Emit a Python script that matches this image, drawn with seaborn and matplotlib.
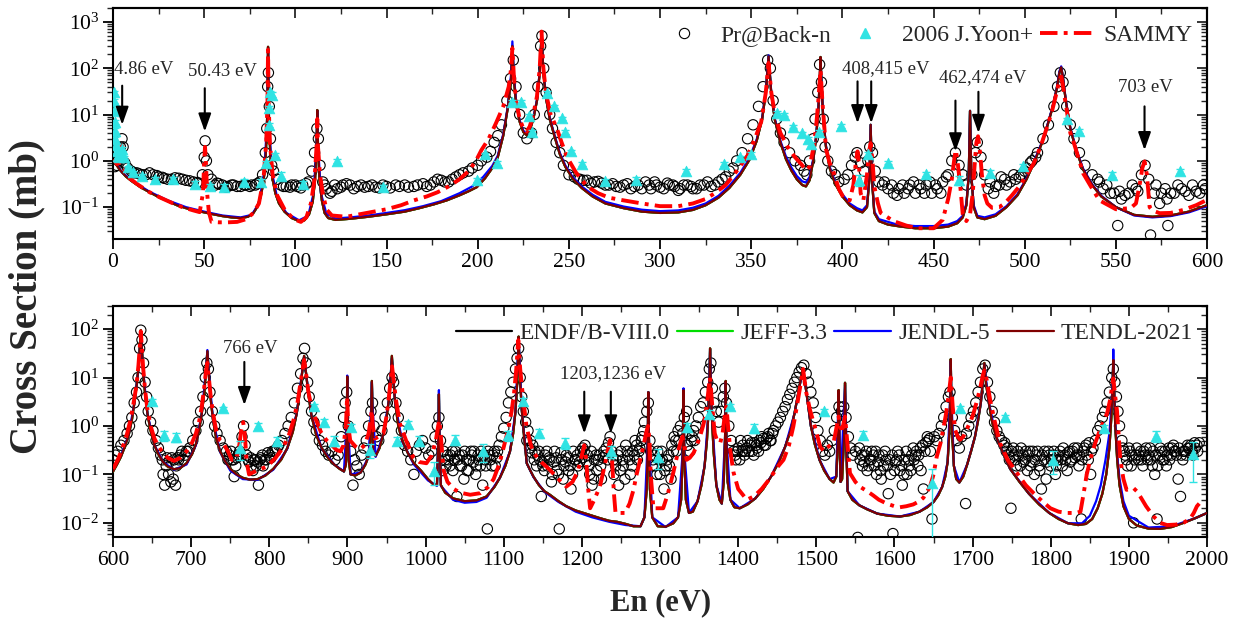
import numpy as np
import pandas as pd
import matplotlib
matplotlib.use("Agg")
import matplotlib.pyplot as plt
import seaborn as sns
from matplotlib.lines import Line2D
from matplotlib.ticker import LogLocator, MultipleLocator, NullFormatter

# ---------------------------------------------------------------- data (E in eV, sigma in mb)
endf_top = [(0.5,1.0),(2,0.8),(4,0.62),(7,0.46),(10,0.37),(15,0.27),(20,0.21),(25,0.165),(30,0.135),(35,0.11),(40,0.095),(45,0.085),(50,0.077),(55,0.07),(60,0.064),(65,0.06),(70,0.058),(74,0.062),(77,0.075),(79,0.1),(81,0.17),(82.5,0.35),(83.5,0.9),(84.3,4),(84.7,20),(85,290),(85.3,20),(85.7,4),(86.5,0.9),(87.5,0.4),(89,0.2),(91,0.12),(94,0.08),(98,0.058),(102,0.05),(105,0.052),(107.5,0.07),(109.5,0.13),(110.8,0.4),(111.6,2),(112,12.5),(112.4,2),(113.2,0.4),(114.5,0.14),(116,0.075),(118,0.058),(122,0.053),(130,0.056),(140,0.062),(150,0.07),(160,0.08),(168,0.095),(176,0.115),(183,0.14),(190,0.18),(195,0.22),(199.5,0.27),(204,0.42),(208,0.7),(211,1.2),(214,3.5),(216.5,14),(218.3,60),(219,300),(219.8,60),(221,18),(223,7),(225,4.2),(226.8,3.6),(228.5,4.5),(230.5,8),(232.5,20),(234,80),(235,560),(236,80),(237.5,22),(239.5,8),(242,3.5),(245,1.4),(248,0.75),(252,0.42),(257,0.26),(263,0.17),(270,0.12),(280,0.095),(290,0.08),(300,0.075),(310,0.077),(318,0.087),(325,0.11),(332,0.16),(338,0.26),(344,0.5),(349,1.05),(353,2.7),(356,8),(358,30),(359.5,180),(361,28),(363,7.5),(366,2.5),(369,1.1),(372,0.62),(375,0.4),(378,0.3),(380,0.28),(382,0.38),(384,1.0),(385.5,3),(386.8,12),(387.6,60),(388,175),(388.5,50),(389.5,8),(391,2),(393,0.7),(396,0.32),(400,0.17),(404,0.11),(408,0.085),(411,0.077),(413.5,0.1),(414.8,0.4),(415.5,6),(416.2,0.4),(417.5,0.075),(420,0.05),(425,0.042),(432,0.038),(440,0.035),(450,0.035),(458,0.038),(463,0.045),(466,0.06),(468,0.11),(469.3,0.5),(470,12),(470.7,0.5),(472,0.1),(474,0.06),(478,0.055),(484,0.065),(490,0.1),(496,0.18),(501,0.4),(505,0.9),(509,2.2),(512,5),(515,13),(517.5,35),(519,80),(520,105),(521,60),(522.5,20),(525,5),(528,1.8),(532,0.65),(537,0.3),(542,0.17),(550,0.1),(560,0.068),(570,0.062),(580,0.066),(590,0.08),(600,0.11)]

jendl_top = [(0.5,1.0),(5,0.56),(10,0.38),(20,0.215),(30,0.14),(40,0.1),(50,0.08),(60,0.066),(70,0.06),(76,0.068),(80,0.12),(83,0.6),(84.5,8),(85,270),(85.5,8),(87,0.6),(90,0.16),(95,0.075),(102,0.052),(107,0.065),(110,0.2),(111.6,2.2),(112,12),(112.4,2.2),(114,0.2),(117,0.072),(122,0.057),(130,0.06),(140,0.066),(150,0.075),(160,0.086),(170,0.105),(180,0.135),(190,0.2),(197,0.28),(203,0.45),(208,0.78),(211,1.3),(214,3.8),(216.5,15),(218.3,75),(219,380),(219.8,75),(221,20),(223,7.5),(225,4.5),(226.8,3.8),(228.5,4.7),(230.5,8.5),(232.5,21),(234,85),(235,500),(236,85),(237.5,23),(239.5,8.5),(242,3.7),(245,1.5),(248,0.8),(252,0.45),(257,0.28),(263,0.185),(270,0.13),(280,0.103),(290,0.088),(300,0.082),(310,0.085),(318,0.097),(325,0.12),(332,0.175),(338,0.29),(344,0.55),(349,1.15),(353,2.9),(356,8.5),(358,33),(359.5,190),(361,30),(363,8),(366,2.7),(369,1.25),(372,0.72),(375,0.47),(378,0.36),(380,0.34),(382,0.45),(384,1.1),(385.5,3.2),(386.8,13),(387.6,60),(388,170),(388.5,50),(389.5,8.5),(391,2.1),(393,0.75),(396,0.35),(400,0.19),(404,0.12),(408,0.095),(411,0.085),(413.5,0.11),(414.8,0.45),(415.5,6),(416.2,0.45),(417.5,0.08),(420,0.055),(430,0.042),(440,0.039),(450,0.039),(458,0.042),(463,0.05),(466,0.065),(468,0.12),(469.3,0.5),(470,12),(470.7,0.5),(472,0.11),(474,0.065),(478,0.06),(484,0.07),(490,0.105),(496,0.19),(501,0.42),(505,0.95),(509,2.3),(512,5.2),(515,13.5),(517.5,36),(519,85),(520,110),(521,62),(522.5,21),(525,5.2),(528,1.9),(532,0.68),(537,0.31),(542,0.175),(550,0.1),(560,0.066),(570,0.06),(580,0.064),(590,0.077),(600,0.105)]

sammy_top = [(0.5,1.1),(2,0.85),(3.5,0.9),(4.5,2.0),(4.86,2.6),(5.3,1.5),(6.5,0.6),(9,0.42),(14,0.3),(20,0.21),(26,0.16),(32,0.125),(38,0.1),(44,0.085),(47.5,0.078),(49.3,0.2),(50.0,1.0),(50.43,2.0),(50.9,1.0),(51.6,0.2),(52.5,0.08),(54,0.048),(58,0.047),(63,0.047),(68,0.048),(73,0.055),(77,0.075),(80,0.12),(82.5,0.4),(84,2.5),(84.7,20),(85,250),(85.3,20),(86,2.5),(87.5,0.5),(90,0.18),(94,0.09),(99,0.055),(103,0.048),(106,0.06),(108.5,0.12),(110.5,0.4),(111.6,2),(112,8),(112.4,2),(113.5,0.5),(115,0.2),(117,0.09),(120,0.066),(128,0.062),(135,0.07),(143,0.08),(150,0.09),(158,0.11),(165,0.14),(172,0.17),(178,0.21),(184,0.28),(190,0.4),(195,0.6),(199,1.0),(202,1.7),(206,3),(210,6.5),(214,15),(217,40),(218.3,100),(219,270),(219.8,70),(221,20),(223,8),(225,5),(226.8,4.3),(228.5,5.5),(230.5,10),(232.5,25),(234,100),(235,620),(236,100),(237.5,28),(240,10),(243.4,5),(246,2.5),(249,1.2),(254,0.55),(260,0.28),(266,0.2),(272,0.16),(280,0.14),(290,0.12),(300,0.105),(310,0.105),(318,0.12),(325,0.15),(330,0.2),(336,0.3),(342,0.6),(348,1.3),(352,3.0),(355.5,7),(358,30),(359.5,130),(361,30),(363,10),(366,4),(370,2),(374,1.2),(378,0.8),(380,0.62),(382,0.75),(384,1.8),(385.5,5),(386.8,20),(388,92),(389,20),(391,1.8),(393,0.9),(395,0.6),(398,0.25),(401,0.15),(404,0.14),(406,0.3),(407.5,1.0),(408.3,1.6),(409,0.9),(410,0.2),(411.5,0.14),(413.5,0.5),(414.5,1.5),(415.5,2.4),(416.5,1.0),(417.5,0.28),(419.5,0.12),(421,0.075),(428,0.05),(435,0.04),(441,0.035),(450,0.035),(455,0.053),(458,0.15),(460,0.4),(461.5,1.2),(462.2,1.7),(463,1.1),(464.6,0.3),(466,0.07),(468,0.05),(470,0.07),(471.5,0.2),(472.5,0.8),(473.5,2.5),(474.4,3.4),(475.5,1.5),(476.5,0.5),(478,0.18),(479.5,0.12),(482,0.097),(486,0.1),(489,0.12),(493,0.18),(497,0.28),(501,0.5),(505,0.89),(509,2.2),(512,5),(515,12),(517.5,30),(519,55),(520,66),(521,40),(523,12.6),(525,4),(527,2.4),(532,0.54),(537,0.25),(541,0.14),(550,0.09),(558,0.095),(561,0.12),(563,0.3),(564.5,0.7),(565.7,0.97),(567,0.5),(568.5,0.1),(570,0.085),(574,0.074),(580,0.075),(587,0.087),(594,0.11),(600,0.144)]

backn_top = [(1,0.75),(2,0.8),(3,1.0),(4,2.0),(4.9,3.0),(5.5,2.0),(6.5,0.9),(8,0.7),(10,0.6),(11.5,0.55),(13,0.55),(14.5,0.52),(16,0.5),(18,0.5),(20,0.55),(22,0.5),(24,0.48),(25,0.45),(27,0.44),(28,0.42),(30,0.4),(32,0.4),(34,0.43),(36,0.42),(38,0.4),(40,0.38),(42,0.37),(44,0.35),(46,0.34),(47,0.33),(49,0.5),(50,1.2),(50.5,2.7),(51.2,1.0),(52,0.5),(54,0.4),(56,0.3),(57,0.33),(58,0.32),(60,0.3),(62,0.27),(63,0.28),(65,0.3),(66,0.3),(68,0.28),(70,0.28),(72,0.3),(73,0.3),(75,0.28),(76,0.3),(78,0.3),(79,0.32),(80.5,0.35),(82,0.5),(83.5,1.5),(84.3,5),(84.8,40),(85.2,80),(85.7,15),(86.3,3),(87,0.8),(88,0.6),(90,0.4),(92,0.3),(93.5,0.28),(95,0.28),(97,0.27),(98,0.3),(100,0.3),(101,0.28),(103,0.26),(104,0.3),(106,0.32),(107,0.35),(109,0.6),(110.5,1.5),(111.8,5),(112.6,3),(113.5,0.8),(115,0.35),(116,0.3),(117,0.25),(119,0.2),(120,0.22),(121.5,0.3),(123,0.25),(125,0.27),(126,0.3),(128,0.32),(130,0.3),(132,0.25),(134,0.28),(136,0.3),(138,0.27),(140,0.28),(142,0.3),(144,0.27),(146,0.26),(148,0.3),(150,0.28),(152,0.26),(155,0.3),(157,0.28),(160,0.3),(162,0.27),(165,0.28),(167,0.3),(170,0.32),(172,0.28),(174,0.3),(176,0.35),(178,0.4),(180,0.38),(182,0.35),(184,0.35),(186,0.4),(188,0.45),(190,0.5),(192,0.55),(195,0.6),(197,0.7),(200,0.8),(202,1.0),(205,1.2),(207,1.6),(209,2.5),(211,3.5),(213,6),(216,20),(218,60),(219.5,150),(221,40),(223,10),(225,4),(227,3),(229.5,4),(231,10),(233,40),(234.5,300),(235.2,500),(236.2,100),(237.5,30),(239.5,10),(241,5),(243,2.5),(245,1.5),(247,0.8),(250,0.5),(253,0.45),(255,0.4),(256,0.4),(258,0.38),(260,0.38),(262,0.33),(264,0.35),(266,0.36),(268,0.33),(270,0.3),(272,0.3),(274,0.32),(276,0.28),(278,0.27),(280,0.3),(282,0.32),(284,0.25),(286,0.28),(288,0.3),(290,0.25),(292,0.35),(294,0.3),(295,0.25),(297,0.35),(298,0.3),(300,0.27),(302,0.25),(304,0.33),(305,0.3),(307,0.3),(308,0.28),(310,0.23),(311,0.25),(313,0.3),(315,0.3),(317,0.28),(318,0.25),(320,0.25),(322,0.3),(324,0.3),(326,0.35),(328,0.28),(330,0.3),(332,0.35),(334,0.4),(336,0.45),(338,0.6),(340,0.7),(342,1.0),(345,1.5),(348,3),(351,6),(354,15),(356.5,40),(359,150),(360.5,100),(362,20),(364,8),(366,4),(368,2.5),(371,1.5),(374,1.0),(377,0.8),(379,0.6),(380.5,0.5),(382,1.0),(384,3),(385,8),(386.5,30),(387.5,120),(388.5,50),(389.5,8),(390.5,2),(392,1.0),(394,0.6),(396,0.5),(398,0.35),(401,0.4),(403,0.5),(405,0.8),(407,1.2),(408,1.5),(410,0.9),(412,0.6),(414,1.0),(415,2),(416.5,1.5),(418,0.6),(420,0.35),(422,0.3),(423,0.35),(425,0.25),(427,0.3),(428,0.2),(430,0.18),(431,0.25),(433,0.3),(434,0.2),(436,0.25),(437,0.3),(439,0.35),(440,0.2),(442,0.3),(443,0.25),(445,0.2),(446,0.3),(448,0.35),(449,0.2),(451,0.3),(452,0.25),(454,0.2),(455,0.35),(457,0.45),(458,0.5),(460,1.0),(462,1.5),(464,0.8),(466,0.5),(468,0.3),(471,0.5),(473,1.5),(474,2.5),(476,1.2),(478,0.5),(480,0.25),(481,0.35),(483,0.2),(484,0.28),(486,0.3),(487,0.45),(489,0.4),(490,0.3),(492,0.35),(494,0.5),(495,0.4),(497,0.45),(498,0.5),(500,0.6),(501,0.7),(503,0.9),(504,1.0),(506,1.2),(507,1.5),(510,3),(513,6),(516,15),(518,40),(519.5,80),(521,50),(523,15),(525,6),(527,3),(530,1.5),(533,0.8),(537,0.5),(540,0.4),(541,0.35),(543,0.25),(545,0.3),(547,0.2),(549,0.2),(551,0.04),(552,0.22),(553,0.15),(555,0.18),(557,0.2),(559,0.3),(561,0.25),(562,0.22),(564,0.5),(566,0.8),(568,0.4),(569,0.025),(571,0.2),(572,0.3),(574,0.12),(575,0.2),(577,0.25),(578,0.15),(578.5,0.04),(580,0.2),(582,0.2),(584,0.3),(586,0.25),(588,0.22),(590,0.18),(592,0.3),(594,0.22),(596,0.2),(598,0.3),(599,0.25)]

yoon_top = [(0.3,30,3),(0.5,20,2),(0.7,12,1.5),(0.9,7,0.8),(1.1,4.5,0.5),(1.3,3,0.3),(1.6,2.2,0.2),(2,1.6,0.15),(2.5,1.3,0.12),(3,1.2,0.1),(4,1.3,0.1),(5,1.8,0.15),(6,1.2,0.1),(8,0.72,0.06),(11,0.56,0.05),(16,0.48,0.04),(23,0.4,0.04),(33,0.4,0.04),(45,0.32,0.04),(53,0.28,0.04),(61,0.27,0.04),(72,0.35,0.05),(81,0.35,0.05),(84,0.9,0.1),(85.3,6,0.5),(85.7,14,1),(86,30,3),(87,27,3),(89,1.35,0.15),(92,0.48,0.08),(104,0.32,0.04),(123,1.0,0.08),(148,0.27,0.03),(199.5,0.39,0.04),(204,1.4,0.1),(210.5,0.9,0.07),(219,19,1.5),(224,19,1.5),(228,9.4,0.8),(230,4.3,0.4),(238,29,2.5),(242,15,1.2),(246,8.3,0.7),(248,4.2,0.4),(251,1.6,0.15),(257,0.85,0.08),(270,0.36,0.05),(287,0.39,0.05),(314,0.59,0.06),(335,0.85,0.08),(344,1.2,0.1),(350,1.4,0.12),(364,11,0.8),(368,10,0.8),(373,5.5,0.5),(378,3.9,0.4),(381,2.9,0.3),(383,2.3,0.3),(387,4.3,0.4),(399,5.7,0.5),(409,0.39,0.1),(414,1.4,0.15),(425,0.92,0.08),(446,0.52,0.06),(464,0.38,0.08),(481,0.54,0.08),(499,0.79,0.08),(523,8,0.6),(530,4.4,0.4),(548,0.5,0.06),(585,0.59,0.06)]

endf_bot = [(600,0.115),(605,0.16),(610,0.23),(615,0.37),(620,0.65),(624,1.3),(627,2.8),(630,6.5),(632.5,16),(634.5,50),(635.5,95),(636.5,50),(638.5,14),(641,4.5),(644,1.8),(648,0.8),(653,0.4),(658,0.26),(664,0.18),(670,0.145),(678,0.128),(686,0.135),(694,0.17),(701,0.26),(706,0.42),(710,0.8),(713.5,1.8),(716.5,4.5),(719,14),(720.7,35),(722.5,12),(725,3.5),(728,1.3),(732,0.55),(737,0.3),(743,0.19),(750,0.13),(758,0.1),(766,0.085),(775,0.078),(785,0.08),(795,0.095),(805,0.13),(815,0.2),(823,0.35),(830,0.75),(835,1.8),(839,5),(842,13),(844.5,28),(847,12),(850,4.5),(854,1.6),(860,0.65),(867,0.35),(875,0.22),(883,0.16),(890,0.13),(895.5,0.115),(898,0.16),(899.2,1.5),(899.7,10.5),(900.3,1.5),(901.5,0.2),(904,0.1),(910,0.095),(917,0.11),(923,0.16),(927,0.24),(929.5,0.5),(930.6,3),(931.2,8.5),(931.8,3),(933,0.3),(936,0.24),(941,0.35),(946,0.7),(950,1.5),(953,3.5),(955.3,10),(956.8,28),(958.5,10),(961,3),(965,1.0),(970,0.5),(977,0.28),(985,0.17),(994,0.12),(1003,0.08),(1010,0.062),(1014.5,0.06),(1016.2,0.5),(1017,4.5),(1017.8,0.5),(1019.5,0.06),(1025,0.042),(1035,0.032),(1050,0.028),(1065,0.029),(1078,0.035),(1088,0.055),(1095,0.085),(1102,0.15),(1108,0.3),(1112,0.7),(1115,2),(1117,7),(1118.3,28),(1119,70),(1119.7,28),(1121,8),(1123,2.2),(1126,0.6),(1129.4,0.17),(1134,0.12),(1138,0.09),(1145,0.06),(1152,0.045),(1159,0.038),(1170,0.028),(1180,0.022),(1192,0.018),(1202,0.016),(1213,0.014),(1223,0.0125),(1235,0.011),(1245,0.0105),(1256,0.0095),(1266,0.0085),(1275,0.0085),(1280,0.013),(1283,0.05),(1284.3,0.6),(1285,5),(1285.7,0.6),(1287,0.05),(1290,0.013),(1297,0.0085),(1307,0.0083),(1317,0.0098),(1323,0.013),(1327,0.03),(1329,0.25),(1330,5.5),(1331,0.25),(1333,0.03),(1337,0.016),(1342,0.017),(1348,0.028),(1353,0.06),(1357,0.15),(1360,0.5),(1362,2),(1363.3,10),(1364,40),(1364.7,10),(1366,2),(1368.5,0.3),(1372,0.06),(1376,0.03),(1379,0.025),(1381.5,0.07),(1383.2,0.6),(1384,8.5),(1384.8,0.6),(1386.5,0.07),(1390,0.03),(1395,0.021),(1402,0.02),(1412,0.024),(1422,0.032),(1432,0.05),(1442,0.09),(1452,0.18),(1460,0.37),(1467,0.8),(1472,1.8),(1476,4),(1479.5,8),(1482.5,15),(1485.5,8),(1489,3),(1493,1),(1498,0.42),(1504,0.2),(1510,0.12),(1517,0.08),(1522,0.068),(1525.5,0.09),(1527.5,0.5),(1528.5,5.5),(1529.5,0.5),(1531,0.07),(1533,0.08),(1535.5,0.6),(1536.7,7.8),(1537.9,0.6),(1540,0.045),(1546,0.03),(1555,0.023),(1565,0.019),(1578,0.0155),(1592,0.014),(1607,0.0135),(1620,0.0145),(1632,0.017),(1642,0.021),(1650,0.027),(1656,0.037),(1661,0.055),(1665,0.09),(1668,0.18),(1670.3,0.8),(1671.5,5),(1672,24),(1672.6,5),(1674,0.6),(1676,0.15),(1679,0.08),(1683,0.068),(1688,0.09),(1693,0.16),(1698,0.3),(1703,0.6),(1707,1.3),(1710.5,3),(1713,8),(1715,20),(1717,8),(1720,3.5),(1725,1.2),(1730,0.6),(1738,0.3),(1748,0.13),(1760,0.07),(1772,0.04),(1785,0.024),(1798,0.016),(1810,0.012),(1822,0.0098),(1835,0.009),(1845,0.0095),(1853,0.012),(1860,0.02),(1866,0.04),(1871,0.1),(1875,0.35),(1877.5,1.5),(1879,6),(1880,23),(1881,6),(1882.5,1.0),(1885,0.2),(1888,0.06),(1893,0.022),(1900,0.012),(1910,0.0088),(1925,0.0076),(1940,0.0075),(1955,0.0082),(1970,0.0100),(1985,0.0125),(2000,0.016)]

jendl_bot = [(600,0.125),(610,0.24),(620,0.66),(627,2.8),(632.5,15),(635.5,80),(638.5,14),(644,1.8),(653,0.4),(664,0.18),(678,0.125),(694,0.16),(706,0.4),(713.5,1.8),(719,15),(720.7,37),(722.5,13),(728,1.3),(737,0.29),(750,0.12),(766,0.08),(785,0.077),(805,0.125),(823,0.34),(835,1.8),(842,13),(844.5,27),(847,12),(854,1.6),(867,0.34),(883,0.16),(895.5,0.115),(899.2,1.5),(899.7,11),(900.3,1.5),(904,0.1),(917,0.11),(927,0.23),(930.6,3),(931.2,8),(931.8,3),(936,0.23),(946,0.68),(953,3.4),(956.8,25),(961,2.9),(970,0.48),(985,0.16),(1003,0.075),(1014.5,0.058),(1016.2,0.6),(1017,5.5),(1017.8,0.6),(1019.5,0.058),(1035,0.03),(1050,0.026),(1065,0.027),(1078,0.033),(1095,0.085),(1108,0.3),(1115,2),(1119,65),(1123,2.2),(1129.4,0.17),(1138,0.088),(1152,0.044),(1170,0.027),(1192,0.017),(1213,0.013),(1235,0.0105),(1256,0.009),(1275,0.0085),(1280,0.013),(1284.3,0.6),(1285,5),(1285.7,0.6),(1290,0.013),(1307,0.0082),(1323,0.013),(1329,0.3),(1330,6),(1331,0.3),(1337,0.016),(1348,0.028),(1357,0.15),(1362,2),(1364,38),(1366,2),(1372,0.06),(1379,0.025),(1383.2,0.6),(1384,8),(1384.8,0.6),(1390,0.03),(1402,0.02),(1422,0.032),(1442,0.09),(1460,0.37),(1472,1.8),(1479.5,8),(1482.5,14),(1485.5,8),(1493,1),(1504,0.2),(1517,0.08),(1525.5,0.09),(1528.5,5),(1531,0.07),(1536.7,7),(1540,0.045),(1555,0.023),(1578,0.0155),(1607,0.0135),(1632,0.017),(1650,0.027),(1661,0.055),(1668,0.18),(1671.5,5),(1672,22),(1672.6,5),(1676,0.15),(1683,0.068),(1693,0.16),(1703,0.6),(1710.5,3),(1715,19),(1720,3.5),(1730,0.6),(1748,0.13),(1772,0.04),(1798,0.016),(1822,0.0098),(1840,0.0098),(1850,0.014),(1858,0.028),(1864,0.06),(1870,0.2),(1875,0.7),(1878,3),(1879.5,12),(1880,38),(1880.7,8),(1882.5,1.2),(1885,0.25),(1888,0.08),(1893,0.028),(1900,0.014),(1925,0.008),(1955,0.0085),(1985,0.0125),(2000,0.016)]

sammy_bot = [(600,0.13),(606,0.2),(612,0.35),(618,0.7),(623,1.5),(627,3.5),(630,7),(632.5,18),(634.5,50),(635.5,90),(636.5,50),(638.5,16),(641,5.5),(644,2.2),(648,1.0),(653,0.55),(658,0.38),(664,0.28),(670,0.22),(678,0.19),(686,0.22),(694,0.3),(701,0.45),(706,0.7),(710,1.2),(713.5,2.5),(716.5,6),(719,14),(720.7,20),(722.5,10),(725,4),(728,1.8),(732,0.8),(737,0.5),(741,0.44),(747,0.3),(752,0.2),(757,0.2),(761,0.35),(764,0.8),(766.5,1.2),(768.5,0.7),(771,0.18),(774,0.1),(784,0.12),(797,0.145),(808,0.22),(818,0.37),(825,0.65),(831,1.33),(836,3),(840,8),(843,16),(844.5,23),(846.5,14),(850,5),(855,2),(860,1.3),(866,0.75),(873,0.51),(880,0.4),(886,0.32),(891,0.3),(895,0.4),(898,1.0),(899.5,4),(901,1.0),(903.5,0.5),(910,0.38),(916,0.33),(922,0.4),(927,0.7),(929.5,1.3),(931,2.1),(932.5,1.0),(935,0.55),(940,0.6),(946,0.7),(950,1.6),(953,4),(955.5,10),(957,17),(959,9),(962,3.5),(967,1.13),(975,0.5),(984,0.23),(992,0.18),(1001,0.17),(1008,0.25),(1013,0.5),(1016,1.0),(1017.5,1.3),(1019.5,0.6),(1023,0.12),(1028,0.07),(1036,0.05),(1044,0.042),(1057,0.038),(1070,0.041),(1080,0.055),(1087,0.08),(1094,0.16),(1100,0.37),(1106,0.9),(1110,2),(1113,4.5),(1116,15),(1118.6,59),(1121,15),(1125,3.4),(1129,1.0),(1134,0.44),(1138,0.28),(1148,0.18),(1159,0.124),(1170,0.08),(1180,0.056),(1188,0.07),(1195,0.12),(1200,0.25),(1203,0.4),(1205.5,0.2),(1208,0.05),(1210.5,0.02),(1215,0.028),(1223,0.056),(1229,0.15),(1233,0.3),(1236,0.51),(1238.5,0.2),(1241,0.04),(1243,0.016),(1255,0.016),(1261,0.025),(1266,0.048),(1270,0.1),(1274.5,0.2),(1279,0.4),(1282,0.7),(1284.5,1.0),(1286.5,0.5),(1288,0.1),(1291.5,0.02),(1304,0.02),(1310,0.04),(1317,0.11),(1322,0.25),(1326,0.45),(1328.5,0.6),(1331,0.4),(1334,0.2),(1338,0.22),(1343,0.28),(1347,0.4),(1351,0.6),(1355,1.0),(1358,1.6),(1361,4),(1363,8),(1364,10),(1366,4),(1368,1.5),(1370,0.7),(1373,0.5),(1377,0.45),(1380,0.7),(1382.5,1.5),(1385,2.5),(1387,1.0),(1390,0.3),(1394,0.11),(1400,0.05),(1411,0.03),(1420,0.035),(1430,0.05),(1440,0.08),(1450,0.14),(1458,0.2),(1465,0.4),(1470.5,0.97),(1475,2.5),(1479,6),(1483,15),(1487,5),(1492,2.1),(1498,0.97),(1505,0.37),(1510,0.3),(1513,0.35),(1518,0.4),(1522,0.45),(1525,0.8),(1528.5,1.56),(1531,0.9),(1533.5,0.9),(1536.7,1.56),(1539,0.6),(1543,0.106),(1550,0.07),(1555.5,0.056),(1565,0.045),(1572.6,0.037),(1580,0.03),(1590,0.025),(1600,0.022),(1607,0.021),(1615,0.022),(1624,0.024),(1632,0.028),(1637,0.033),(1642,0.045),(1645.5,0.056),(1650,0.1),(1654,0.23),(1659,0.45),(1663,0.97),(1666,1.8),(1669,4),(1672,10),(1674.5,2.5),(1677.6,0.83),(1681,0.6),(1684,0.52),(1688,0.6),(1692,0.83),(1697,1.2),(1701,1.8),(1706,3.5),(1710,6.5),(1713,11),(1715,14),(1718,9),(1722.5,3.4),(1728,1.3),(1735,0.44),(1745,0.2),(1757,0.106),(1768,0.06),(1778,0.041),(1789,0.028),(1799.5,0.02),(1810,0.017),(1820.8,0.016),(1832,0.016),(1838,0.017),(1842,0.04),(1846,0.1),(1850.5,0.2),(1857,0.45),(1863,0.83),(1868,1.3),(1872,1.8),(1876,3.5),(1880,9.6),(1882.5,4),(1884.7,2.1),(1887,0.6),(1889,0.2),(1893,0.08),(1897,0.048),(1902,0.05),(1906,0.052),(1910,0.045),(1914.5,0.035),(1922,0.022),(1931.6,0.0135),(1940,0.01),(1948.7,0.009),(1960,0.0092),(1970,0.0101),(1978,0.012),(1983,0.016),(1987,0.022),(1990,0.025)]

backn_bot = [(600,0.2),(603,0.25),(606,0.3),(610,0.4),(614,0.5),(618,0.7),(621,1.0),(624,1.5),(627,3),(630,5),(632,10),(634,40),(635.5,95),(637,60),(639,20),(641,8),(643,4),(645,2),(648,1.2),(651,0.8),(655,0.5),(658,0.35),(661,0.25),(663,0.2),(664,0.1),(666,0.06),(668,0.15),(669,0.22),(671,0.1),(672,0.18),(674,0.07),(675,0.22),(677,0.08),(678,0.2),(680,0.06),(681,0.15),(683,0.22),(684,0.2),(686,0.25),(688,0.3),(690,0.2),(692,0.25),(694,0.3),(696,0.3),(698,0.35),(702,0.5),(706,0.8),(709,1.2),(712,2),(715,4),(718,10),(720,20),(722,15),(724,5),(727,2),(730,1.0),(733,0.7),(737,0.5),(741,0.35),(745,0.3),(747,0.2),(749,0.25),(751,0.3),(752,0.2),(754,0.2),(755,0.09),(757,0.15),(758,0.22),(760,0.25),(762,0.3),(765,0.6),(767,1.0),(769,0.4),(771,0.25),(773,0.2),(774,0.18),(776,0.22),(777,0.15),(779,0.12),(780,0.2),(782,0.2),(783,0.15),(785,0.18),(786,0.06),(788,0.2),(789,0.22),(791,0.25),(792,0.15),(794,0.2),(796,0.2),(798,0.28),(800,0.25),(802,0.22),(804,0.3),(806,0.3),(808,0.3),(810,0.35),(812,0.4),(816,0.5),(820,0.7),(824,1.0),(828,1.5),(832,3),(836,6),(840,12),(843,25),(845,40),(847,20),(849,8),(851,4),(854,2),(857,1.2),(860,0.8),(864,0.5),(868,0.4),(872,0.3),(876,0.25),(880,0.3),(884,0.2),(888,0.25),(892,0.6),(895,1.5),(897,3),(899,5),(901,1),(904,0.3),(907,0.06),(909,0.2),(912,0.15),(915,0.1),(918,0.25),(921,0.35),(924,0.5),(927,1.0),(930,2),(932,3),(934,1),(937,0.6),(940,0.5),(944,0.8),(948,1.5),(951,3),(954,6),(957,10),(959,8),(962,3),(965,1.5),(969,0.8),(973,0.4),(977,0.3),(981,0.2),(985,0.1),(988,0.3),(992,0.4),(996,0.5),(1000,0.35),(1004,0.25),(1008,0.3),(1012,0.6),(1015,1.0),(1017,1.5),(1019,0.5),(1022,0.12),(1023,0.3),(1025,0.2),(1026,0.15),(1028,0.25),(1029,0.2),(1031,0.15),(1032,0.25),(1034,0.3),(1035,0.12),(1037,0.2),(1038,0.3),(1040,0.035),(1041,0.2),(1043,0.25),(1044,0.15),(1046,0.15),(1047,0.25),(1049,0.08),(1050,0.3),(1052,0.2),(1053,0.12),(1055,0.12),(1056,0.2),(1058,0.3),(1059,0.25),(1061,0.18),(1062,0.3),(1064,0.1),(1065,0.15),(1067,0.25),(1068,0.2),(1070,0.15),(1071,0.3),(1073,0.06),(1074,0.25),(1076,0.2),(1077,0.15),(1079,0.0075),(1080,0.3),(1082,0.25),(1083,0.2),(1085,0.15),(1086,0.25),(1088,0.3),(1089,0.15),(1091,0.22),(1092,0.3),(1094,0.4),(1097,0.6),(1100,0.9),(1103,1.5),(1106,3),(1109,5),(1112,8),(1115,15),(1117,25),(1119,40),(1121,10),(1123,4),(1125,2),(1128,1.2),(1129.5,0.5),(1131,0.8),(1133,0.35),(1134,0.5),(1136,0.28),(1137,0.4),(1139,0.2),(1140,0.3),(1142,0.15),(1143,0.25),(1145,0.3),(1146,0.2),(1148,0.035),(1149,0.18),(1150,0.15),(1152,0.12),(1153,0.25),(1155,0.3),(1156,0.15),(1158,0.22),(1159,0.2),(1161,0.07),(1162,0.1),(1164,0.18),(1165,0.3),(1167,0.22),(1168,0.12),(1170,0.1),(1171,0.0075),(1173,0.28),(1174,0.2),(1176,0.08),(1177,0.15),(1179,0.18),(1180,0.25),(1182,0.22),(1183,0.12),(1185,0.15),(1186,0.05),(1188,0.1),(1189,0.3),(1191,0.2),(1192,0.2),(1194,0.25),(1195,0.15),(1197,0.18),(1198,0.3),(1200,0.22),(1201,0.35),(1203,0.3),(1204,0.4),(1206,0.18),(1207,0.25),(1209,0.15),(1210,0.1),(1212,0.3),(1213,0.06),(1215,0.08),(1216,0.2),(1218,0.25),(1219,0.12),(1221,0.2),(1222,0.25),(1224,0.15),(1225,0.08),(1227,0.22),(1228,0.3),(1230,0.25),(1231,0.35),(1233,0.2),(1234,0.45),(1236,0.6),(1238,0.3),(1240,0.2),(1241,0.1),(1243,0.15),(1244,0.2),(1246,0.25),(1247,0.06),(1249,0.12),(1250,0.3),(1252,0.2),(1253,0.15),(1255,0.08),(1256,0.4),(1258,0.3),(1259,0.25),(1261,0.2),(1262,0.1),(1264,0.15),(1265,0.3),(1267,0.25),(1268,0.5),(1270,0.4),(1271,0.2),(1273,0.3),(1274,0.35),(1276,0.5),(1277,0.6),(1279,0.8),(1280,1.2),(1283,2),(1285,3),(1287,0.5),(1288,0.3),(1290,0.15),(1291,0.2),(1293,0.25),(1294,0.15),(1296,0.1),(1297,0.3),(1299,0.2),(1300,0.1),(1302,0.3),(1303,0.2),(1305,0.05),(1306,0.12),(1308,0.15),(1309,0.2),(1311,0.25),(1312,0.15),(1314,0.08),(1315,0.4),(1317,0.3),(1318,0.6),(1320,0.5),(1321,0.3),(1323,0.8),(1324,0.5),(1326,1.0),(1329,0.7),(1331,1.5),(1334,2),(1335,0.4),(1337,0.7),(1338,0.3),(1340,0.5),(1341,0.6),(1343,0.8),(1344,0.5),(1346,1.0),(1349,1.5),(1352,2.5),(1355,3),(1358,5),(1361,8),(1363,15),(1365,20),(1367,6),(1369,3),(1372,2),(1375,1.2),(1378,2),(1381,4),(1383,6),(1385,3),(1388,1),(1391,0.5),(1394,0.3),(1396,0.25),(1397,0.2),(1399,0.3),(1400,0.35),(1402,0.2),(1403,0.5),(1405,0.3),(1406,0.4),(1408,0.25),(1409,0.3),(1411,0.35),(1412,0.5),(1414,0.3),(1415,0.4),(1417,0.45),(1418,0.3),(1420,0.25),(1421,0.45),(1423,0.4),(1424,0.35),(1426,0.3),(1427,0.5),(1429,0.45),(1430,0.6),(1432,0.55),(1433,0.4),(1435,0.4),(1436,0.55),(1438,0.6),(1439,0.7),(1441,0.5),(1442,0.5),(1444,0.7),(1445,0.8),(1448,1.0),(1451,1.2),(1454,1.5),(1457,2),(1460,2.5),(1463,3.5),(1466,4.5),(1469,6),(1472,8),(1475,10),(1478,13),(1481,16),(1484,18),(1487,12),(1490,8),(1493,5),(1496,3),(1499,1.5),(1502,0.8),(1505,0.5),(1508,0.3),(1511,0.25),(1514,0.4),(1517,0.3),(1520,0.5),(1523,0.8),(1526,1.5),(1529,2.5),(1532,2),(1535,2.5),(1538,1.5),(1541,0.6),(1544,0.35),(1547,0.25),(1550,0.3),(1553,0.005),(1555,0.35),(1556,0.2),(1558,0.25),(1559,0.15),(1561,0.18),(1562,0.25),(1564,0.3),(1565,0.12),(1567,0.15),(1568,0.2),(1570,0.2),(1571,0.3),(1573,0.25),(1574,0.15),(1576,0.3),(1577,0.1),(1579,0.18),(1580,0.25),(1582,0.12),(1583,0.08),(1585,0.25),(1586,0.15),(1588,0.3),(1589,0.2),(1591,0.15),(1592,0.04),(1594,0.2),(1595,0.1),(1597,0.25),(1598,0.006),(1600,0.12),(1601,0.18),(1603,0.2),(1604,0.3),(1606,0.25),(1607,0.12),(1609,0.15),(1610,0.06),(1612,0.1),(1613,0.2),(1615,0.3),(1616,0.1),(1618,0.2),(1619,0.15),(1621,0.12),(1622,0.25),(1624,0.35),(1625,0.2),(1627,0.25),(1628,0.3),(1630,0.15),(1631,0.25),(1633,0.35),(1634,0.12),(1636,0.4),(1637,0.05),(1639,0.3),(1640,0.45),(1642,0.6),(1643,0.5),(1645,0.55),(1646,0.3),(1648,0.012),(1651,0.6),(1654,0.5),(1657,0.7),(1660,1.0),(1663,1.5),(1666,2.5),(1669,4),(1671,5),(1674,1.5),(1677,0.8),(1680,0.5),(1683,0.35),(1686,0.6),(1691,0.025),(1692,0.7),(1695,1.0),(1698,1.5),(1701,2),(1704,3),(1707,5),(1710,8),(1713,15),(1716,18),(1719,8),(1722,4),(1725,2),(1728,1.2),(1731,0.8),(1734,0.6),(1737,0.5),(1740,0.4),(1741,0.45),(1743,0.3),(1744,0.35),(1746,0.25),(1747,0.2),(1749,0.02),(1750,0.3),(1752,0.35),(1753,0.25),(1755,0.2),(1756,0.15),(1758,0.3),(1759,0.25),(1761,0.15),(1762,0.35),(1764,0.25),(1765,0.18),(1767,0.2),(1768,0.3),(1770,0.12),(1771,0.25),(1773,0.3),(1774,0.15),(1776,0.18),(1777,0.3),(1779,0.1),(1780,0.2),(1782,0.25),(1783,0.3),(1785,0.15),(1786,0.12),(1788,0.05),(1789,0.25),(1791,0.2),(1792,0.3),(1794,0.08),(1795,0.18),(1797,0.3),(1798,0.25),(1800,0.15),(1801,0.2),(1803,0.25),(1804,0.3),(1806,0.1),(1807,0.15),(1809,0.2),(1810,0.25),(1812,0.3),(1813,0.2),(1815,0.15),(1816,0.35),(1818,0.25),(1819,0.2),(1821,0.12),(1822,0.28),(1824,0.3),(1825,0.18),(1827,0.2),(1828,0.3),(1830,0.35),(1831,0.22),(1833,0.25),(1834,0.35),(1836,0.15),(1837,0.25),(1839,0.012),(1840,0.2),(1842,0.3),(1843,0.35),(1845,0.4),(1846,0.25),(1848,0.2),(1849,0.45),(1851,0.1),(1852,0.3),(1854,0.35),(1857,0.5),(1860,0.8),(1863,1.0),(1866,1.5),(1869,2),(1872,3),(1875,5),(1878,10),(1880,15),(1882,8),(1884,4),(1886,2),(1888,1.0),(1891,0.5),(1892,0.35),(1894,0.3),(1895,0.25),(1897,0.2),(1898,0.15),(1900,0.35),(1901,0.3),(1903,0.15),(1904,0.25),(1906,0.01),(1907,0.2),(1909,0.25),(1910,0.35),(1912,0.2),(1913,0.25),(1915,0.3),(1916,0.2),(1918,0.15),(1919,0.3),(1921,0.25),(1922,0.35),(1924,0.2),(1925,0.25),(1927,0.35),(1928,0.2),(1930,0.15),(1931,0.3),(1933,0.1),(1934,0.25),(1936,0.012),(1937,0.15),(1939,0.25),(1940,0.35),(1942,0.3),(1943,0.2),(1945,0.2),(1946,0.3),(1948,0.15),(1949,0.25),(1951,0.35),(1952,0.2),(1954,0.25),(1955,0.35),(1957,0.4),(1958,0.3),(1960,0.3),(1961,0.25),(1963,0.08),(1964,0.35),(1966,0.035),(1967,0.25),(1969,0.2),(1970,0.3),(1972,0.3),(1973,0.25),(1975,0.4),(1976,0.35),(1978,0.35),(1979,0.4),(1981,0.3),(1982,0.25),(1984,0.45),(1985,0.35),(1987,0.4),(1988,0.3),(1990,0.45)]

yoon_bot = [(650,3.3,0.3),(665,0.65,0.15),(680,0.58,0.12),(741,2.3,0.2),(763,0.35,0.15),(786,1.0,0.15),(810,0.48,0.1),(857,2.6,0.3),(870,1.2,0.2),(883,0.5,0.12),(905,0.97,0.15),(929,0.32,0.1),(963,0.5,0.08),(978,1.1,0.15),(991,0.5,0.12),(1011,0.12,0.06),(1038,0.52,0.12),(1074,0.3,0.12),(1106,0.65,0.15),(1124,3.3,0.4),(1145,0.72,0.15),(1178,0.45,0.12),(1237,0.3,0.08),(1297,0.23,0.1),(1335,0.95,0.2),(1362,1.8,0.3),(1390,2.6,0.3),(1420,0.9,0.2),(1510,2.0,0.25),(1560,0.65,0.12),(1648,0.065,0.064),(1684,2.3,0.25),(1742,1.5,0.2),(1803,0.2,0.1),(1868,0.9,0.15),(1935,0.62,0.15),(1982,0.27,0.2)]

# legend labels
meas_labels = ["Pr@Back-n", "2006 J.Yoon+", "SAMMY"]
eval_labels = ["ENDF/B-VIII.0", "JEFF-3.3", "JENDL-5", "TENDL-2021"]
eval_colors = ["#000000", "#00DD00", "#0000FF", "#800000"]

# ---------------------------------------------------------------- style
sns.set_theme(style="ticks")
plt.rcParams['font.family'] = ['Liberation Serif', 'DejaVu Serif']
plt.rcParams['mathtext.fontset'] = 'custom'
plt.rcParams['mathtext.rm'] = 'Liberation Serif'
plt.rcParams['mathtext.it'] = 'Liberation Serif:italic'
plt.rcParams['mathtext.bf'] = 'Liberation Serif:bold'

CYAN = "#2FE3E3"
RED = "#FF0000"
SAMMY_DASH = [4.5, 1.6, 1.0, 1.6]

fig = plt.figure(figsize=(12.37, 6.25), dpi=100)
ax1 = fig.add_axes([0.0914, 0.6176, 0.8844, 0.3696])
ax2 = fig.add_axes([0.0914, 0.1408, 0.8844, 0.3696])


def df(pairs):
    return pd.DataFrame(pairs, columns=["E", "sigma"])


def draw(ax, backn, yoon, endf, jeff, jendl, tendl, sammy):
    b = df(backn)
    sns.scatterplot(data=b, x="E", y="sigma", ax=ax, marker="o", s=55,
                    facecolor="none", edgecolor="black", linewidth=0.8, zorder=2, legend=False)
    for data, col in zip([endf, jeff, jendl, tendl], eval_colors):
        d = df(data)
        sns.lineplot(data=d, x="E", y="sigma", ax=ax, color=col, lw=1.6,
                     sort=False, estimator=None, zorder=3, legend=False)
    s = df(sammy)
    sns.lineplot(data=s, x="E", y="sigma", ax=ax, color=RED, lw=2.8,
                 sort=False, estimator=None, zorder=4, legend=False)
    ax.lines[-1].set_dashes(SAMMY_DASH)
    y = pd.DataFrame(yoon, columns=["E", "sigma", "err"])
    ax.errorbar(y["E"], y["sigma"], yerr=y["err"], fmt="none", ecolor=CYAN,
                elinewidth=1.0, capsize=3, capthick=1.0, zorder=5)
    sns.scatterplot(data=y, x="E", y="sigma", ax=ax, marker="^", s=60,
                    color=CYAN, edgecolor=CYAN, linewidth=0.5, zorder=6, legend=False)


draw(ax1, backn_top, yoon_top, endf_top, endf_top, jendl_top, endf_top, sammy_top)
draw(ax2, backn_bot, yoon_bot, endf_bot, endf_bot, jendl_bot, endf_bot, sammy_bot)


def style(ax, xlim, ylim, major, minor):
    ax.set_yscale("log")
    ax.set_xlim(*xlim)
    ax.set_ylim(*ylim)
    ax.set_xlabel("")
    ax.set_ylabel("")
    ax.xaxis.set_major_locator(MultipleLocator(major))
    ax.xaxis.set_minor_locator(MultipleLocator(minor))
    ax.yaxis.set_major_locator(LogLocator(base=10, numticks=20))
    ax.yaxis.set_minor_locator(LogLocator(base=10, subs=np.arange(2, 10), numticks=20))
    ax.yaxis.set_minor_formatter(NullFormatter())
    ax.tick_params(which="major", direction="out", length=7, width=1.3, labelsize=15.5,
                   top=False, right=False, pad=3, colors="black")
    ax.tick_params(which="minor", direction="out", length=4, width=1.0,
                   top=False, right=False)
    for sp in ax.spines.values():
        sp.set_linewidth(1.5)
        sp.set_visible(True)
        sp.set_color("black")
    sx = ax.secondary_xaxis("top")
    sx.xaxis.set_major_locator(MultipleLocator(major))
    sx.xaxis.set_minor_locator(MultipleLocator(minor))
    sx.tick_params(which="major", direction="in", length=7, width=1.3, labeltop=False)
    sx.tick_params(which="minor", direction="in", length=4, width=1.0)
    sx.spines["top"].set_linewidth(1.5)
    sy = ax.secondary_yaxis("right")
    sy.set_yscale("log")
    sy.yaxis.set_major_locator(LogLocator(base=10, numticks=20))
    sy.yaxis.set_minor_locator(LogLocator(base=10, subs=np.arange(2, 10), numticks=20))
    sy.yaxis.set_minor_formatter(NullFormatter())
    sy.tick_params(which="major", direction="in", length=7, width=1.3, labelright=False)
    sy.tick_params(which="minor", direction="in", length=4, width=1.0)
    sy.spines["right"].set_linewidth(1.5)


style(ax1, (0, 600), (0.0205, 2000), 50, 25)
style(ax2, (600, 2000), (0.0051, 300), 100, 50)

# ---------------------------------------------------------------- annotations
def arrow(ax, x, y0, y1):
    ax.annotate("", xy=(x, y1), xytext=(x, y0),
                arrowprops=dict(arrowstyle="-|>,head_length=0.9,head_width=0.32",
                                color="black", lw=1.5, shrinkA=0, shrinkB=0), zorder=7)

AFS = 13.5
ax1.text(17, 92, "4.86 eV", ha="center", va="center", fontsize=AFS)
arrow(ax1, 5, 42, 6.0)
ax1.text(60, 85, "50.43 eV", ha="center", va="center", fontsize=AFS)
arrow(ax1, 50.3, 37, 4.3)
ax1.text(424, 100, "408,415 eV", ha="center", va="center", fontsize=AFS)
arrow(ax1, 408.3, 52, 6.5)
arrow(ax1, 415.8, 52, 6.5)
ax1.text(477, 63, "462,474 eV", ha="center", va="center", fontsize=AFS)
arrow(ax1, 462, 20, 1.6)
arrow(ax1, 474.6, 31, 4.0)
ax1.text(566, 39, "703 eV", ha="center", va="center", fontsize=AFS)
arrow(ax1, 565.7, 15, 1.7)

ax2.text(775, 40, "766 eV", ha="center", va="center", fontsize=AFS)
arrow(ax2, 768, 21, 2.7)
ax2.text(1240, 11.8, "1203,1236 eV", ha="center", va="center", fontsize=AFS)
arrow(ax2, 1203, 5.1, 0.7)
arrow(ax2, 1237, 5.1, 0.7)

# ---------------------------------------------------------------- legends
h1 = [Line2D([], [], ls="none", marker="o", mfc="none", mec="black", mew=0.8, ms=7.4),
      Line2D([], [], ls="none", marker="^", mfc=CYAN, mec=CYAN, ms=7.5),
      Line2D([], [], color=RED, lw=2.8, dashes=SAMMY_DASH)]
ax1.legend(h1, meas_labels, loc="upper right", ncol=3, frameon=False, fontsize=17,
           handlelength=2.3, columnspacing=0.3, handletextpad=0.4,
           bbox_to_anchor=(1.0, 0.99), borderaxespad=0.2)
h2 = [Line2D([], [], color=c, lw=1.6) for c in eval_colors]
ax2.legend(h2, eval_labels, loc="upper right", ncol=4, frameon=False, fontsize=17,
           handlelength=2.4, columnspacing=0.3, handletextpad=0.3,
           bbox_to_anchor=(1.0, 0.99), borderaxespad=0.2)

fig.text(0.022, 0.525, "Cross Section (mb)", rotation=90, ha="center", va="center",
         fontsize=28, fontweight="bold")
fig.text(0.534, 0.035, "En (eV)", ha="center", va="center", fontsize=22, fontweight="bold")

fig.savefig("out.png", dpi=100)
